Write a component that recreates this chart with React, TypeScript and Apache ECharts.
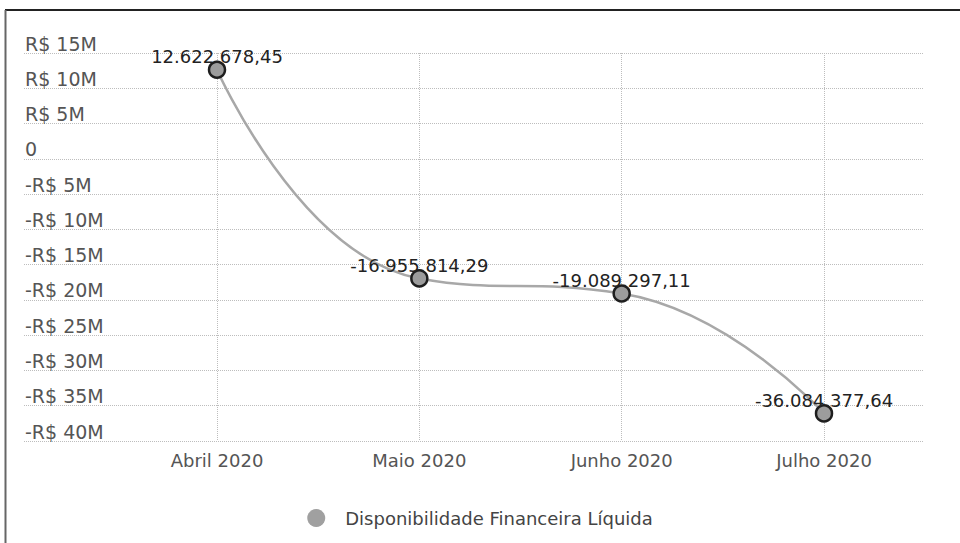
import React, { useEffect, useRef } from "react";
import * as echarts from "echarts";

const categories = ["Abril 2020", "Maio 2020", "Junho 2020", "Julho 2020"];
const seriesName = "Disponibilidade Financeira Líquida";
const values = [12622678.45, -16955814.29, -19089297.11, -36084377.64];
const yMin = -40000000;
const yMax = 15000000;
const yInterval = 5000000;

const FONT = "DejaVu Sans";

function fmtBR(v: number): string {
  const neg = v < 0;
  const abs = Math.abs(v);
  const fixed = abs.toFixed(2);
  const [intPart, dec] = fixed.split(".");
  const withDots = intPart.replace(/\B(?=(\d{3})+(?!\d))/g, ".");
  return (neg ? "-" : "") + withDots + "," + dec;
}

function fmtAxis(v: number): string {
  if (v === 0) return "0";
  const m = Math.abs(v) / 1000000;
  return (v < 0 ? "-" : "") + "R$ " + m + "M";
}

export default function App() {
  const ref = useRef<HTMLDivElement>(null);
  useEffect(() => {
    if (!ref.current) return;
    const chart = echarts.init(ref.current, undefined, { renderer: "svg" });
    const gridTop = 53;
    const gridBottom = 102;
    chart.setOption({
      animation: false,
      backgroundColor: "#ffffff",
      textStyle: { fontFamily: FONT },
      graphic: [
        { type: "line", shape: { x1: 5, y1: 10, x2: 960, y2: 10 }, style: { stroke: "#222", lineWidth: 2 } },
        { type: "line", shape: { x1: 5.5, y1: 10, x2: 5.5, y2: 543 }, style: { stroke: "#666", lineWidth: 2 } },
      ],
      grid: [
        { left: 24, right: 37, top: gridTop, bottom: gridBottom },
        { left: 217, right: 136, top: gridTop, bottom: gridBottom },
      ],
      xAxis: [
        { type: "category", gridIndex: 0, data: [], show: false },
        {
          type: "category",
          gridIndex: 1,
          data: categories,
          boundaryGap: false,
          axisLine: { show: false },
          axisTick: { show: false },
          axisLabel: { interval: 0, margin: 10, fontSize: 18, color: "#555", fontFamily: FONT },
          splitLine: { show: true, lineStyle: { type: "dotted", color: "#bdbdbd", width: 1 } },
        },
      ],
      yAxis: [
        {
          type: "value",
          gridIndex: 0,
          min: yMin,
          max: yMax,
          interval: yInterval,
          axisLine: { show: false },
          axisTick: { show: false },
          axisLabel: {
            inside: true,
            margin: 1,
            verticalAlign: "bottom",
            align: "left",
            fontSize: 19,
            color: "#555",
            fontFamily: FONT,
            formatter: fmtAxis,
          },
          splitLine: { show: true, lineStyle: { type: "dotted", color: "#bdbdbd", width: 1 } },
        },
        { type: "value", gridIndex: 1, min: yMin, max: yMax, interval: yInterval, show: false, splitLine: { show: false } },
      ],
      legend: {
        left: "center",
        top: 509,
        padding: 0,
        icon: "circle",
        itemWidth: 20,
        itemHeight: 18,
        itemStyle: { borderWidth: 0, color: "#a0a0a0" },
        textStyle: { fontSize: 18, color: "#444", fontFamily: FONT, padding: [0, 0, 0, 14] },
        data: [seriesName],
      },
      series: [
        {
          name: seriesName,
          type: "line",
          xAxisIndex: 1,
          yAxisIndex: 1,
          data: values,
          smooth: 0.5,
          symbol: "circle",
          symbolSize: 16,
          lineStyle: { color: "#a8a8a8", width: 2.5 },
          itemStyle: { color: "#9c9c9c", borderColor: "#1e1e1e", borderWidth: 2.5 },
          label: {
            show: true,
            position: "top",
            distance: 0,
            offset: [0, 5],
            fontSize: 18,
            color: "#222",
            fontFamily: FONT,
            formatter: (p: any) => fmtBR(p.value),
          },
        },
      ],
    });
    return () => chart.dispose();
  }, []);
  return (
    <div
      ref={ref}
      style={{ position: "absolute", left: 0, top: 0, width: 960, height: 543 }}
    />
  );
}
